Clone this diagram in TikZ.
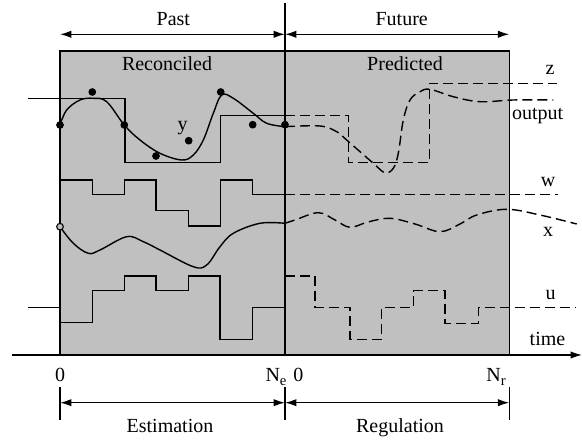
\documentclass[tikz,border=0pt]{standalone}
\usepackage{fontspec}
\setmainfont{Liberation Serif}
\usetikzlibrary{arrows.meta}
\begin{document}
\begin{tikzpicture}[x=0.75pt,y=-0.75pt,
  sig/.style={line width=1.05pt,line join=miter},
  fut/.style={sig,dash pattern=on 7.5pt off 3.75pt},
  ln/.style={line width=1.05pt},
  dimarr/.style={ln,{Latex[length=8.5pt,width=5.5pt]}-{Latex[length=8.5pt,width=5.5pt]}},
  lbl/.style={font=\fontsize{15}{18}\selectfont,anchor=base,inner sep=0pt},
  dot/.style={circle,fill=black,inner sep=0pt,minimum size=5.8pt},
  odot/.style={circle,draw=black,fill=gray!50,line width=0.8pt,inner sep=0pt,minimum size=5pt}]
\useasboundingbox (0,0) rectangle (582,441);
% box
\draw[ln,fill={rgb,255:red,192;green,192;blue,192}] (60,51) rectangle (509.3,355);
% coordinates
\coordinate (p0) at (60,34.3);
\coordinate (pe) at (285,34.3);
\coordinate (pr) at (509.3,34.3);
\coordinate (e0) at (60,402.7);
\coordinate (ee) at (285,402.7);
\coordinate (er) at (509.3,402.7);
\coordinate (vt) at (285,3);
\coordinate (vb) at (285,355);
\coordinate (ax0) at (11.7,355);
\coordinate (ax1) at (582,355);
% axis and divider
\draw[ln] (vt) -- (vb);
\draw[ln,-{Latex[length=8.5pt,width=5.5pt]}] (ax0) -- (ax1);
% ticks
\foreach \xx/\nm in {60/a,285/b,509.3/c}{
  \coordinate (tk\nm1) at (\xx,387);
  \coordinate (tk\nm2) at (\xx,420);
  \draw[ln] (tk\nm1) -- (tk\nm2);
}
% dimension arrows
\draw[dimarr] (p0) -- (pe);
\draw[dimarr] (pe) -- (pr);
\draw[dimarr] (e0) -- (ee);
\draw[dimarr] (ee) -- (er);
% texts
\node[lbl] (past) at (173.3,25.3) {Past};
\node[lbl] (future) at (401.7,25.3) {Future};
\node[lbl] (rec) at (167,70.7) {Reconciled};
\node[lbl] (pred) at (405,70.7) {Predicted};
\node[lbl] (est) at (170,432.7) {Estimation};
\node[lbl] (reg) at (400,432.7) {Regulation};
\node[lbl] (z0) at (60,381.7) {0};
\node[lbl] (ne) at (276,381.7) {N\raisebox{-0.45ex}{\fontsize{11}{12}\selectfont e}};
\node[lbl] (z1) at (298.3,381.7) {0};
\node[lbl] (nr) at (496,381.7) {N\raisebox{-0.45ex}{\fontsize{11}{12}\selectfont r}};
\node[lbl] (lz) at (550,75) {z};
\node[lbl] (lout) at (537.7,120) {output};
\node[lbl] (lw) at (548,186.7) {w};
\node[lbl] (lx) at (548,236.7) {x};
\node[lbl] (lu) at (550.7,300) {u};
\node[lbl] (ltime) at (547.5,345.7) {time};
\node[lbl] (ly) at (182.7,130.7) {y};
% setpoint z (step)
\draw[sig] (28.3,98.7) -- (125,98.7) -- (125,162.7) -- (220.7,162.7) -- (220.7,115.3) -- (285,115.3);
\draw[fut] (285,115.3) -- (348.3,115.3) -- (348.3,162.7) -- (429.3,162.7) -- (429.3,83.3) -- (556.7,83.3);
% output curve
\draw[sig] plot[smooth,tension=0.6] coordinates {(60,125) (66.7,110) (80,100) (93.3,98.3) (106.7,101.7) (124.3,125) (140,140) (160,153.3) (181.7,160) (193.3,155) (203.3,140) (213.3,113.3) (221.7,95) (233.3,98.3) (253.3,113.3) (266.7,123.3) (285,126.7)};
\draw[fut] plot[smooth,tension=0.6] coordinates {(285,126.7) (320,126) (336.7,131.7) (346.7,140) (373.3,163.3) (385,172.7) (393.3,168.3) (398.3,153.3) (403.3,120) (410,100) (420,91.7) (430,89.3) (453.3,96.7) (480,101.7) (513.3,100) (553.3,100)};
% measurements
\foreach \px/\py [count=\i] in {60/125,92.3/92,124.3/125,156/156,188.7/140.7,220.7/92,252.7/124.7,285/124.7}{
  \node[dot] (m\i) at (\px,\py) {};
}
% w
\draw[sig] (60,180) -- (92.3,180) -- (92.3,194.3) -- (124.3,194.3) -- (124.3,180) -- (156,180) -- (156,210.7) -- (188.3,210.7) -- (188.3,226) -- (220.3,226) -- (220.3,180) -- (252.7,180) -- (252.7,194.3) -- (285,194.3);
\draw[fut] (285,194.3) -- (558,194.3);
% x
\draw[sig] plot[smooth,tension=0.6] coordinates {(60,226.7) (73.3,243.3) (88.3,253.3) (100,250) (126.7,236.7) (143.3,241.7) (160,250) (193.3,266.7) (206.7,265) (220,246.7) (233.3,233.3) (260,223.3) (285,223.3)};
\draw[fut] plot[smooth,tension=0.6] coordinates {(285,223.3) (295,220) (318.3,212.7) (335,220) (350,227.3) (368,222) (390,218.3) (415,224) (440,231.7) (460,224) (476.7,215) (506.7,209.3) (540,215) (576.7,224)};
\node[odot] (x0) at (60,226.7) {};
% u
\draw[sig] (28.3,307.3) -- (60,307.3) -- (60,322.7) -- (92.3,322.7) -- (92.3,290.7) -- (124.3,290.7) -- (124.3,276) -- (156,276) -- (156,290.7) -- (188.3,290.7) -- (188.3,276) -- (220,276) -- (220,339.3) -- (252.7,339.3) -- (252.7,307.3) -- (285,307.3);
\draw[fut] (285,276) -- (315,276) -- (315,307.3) -- (350,307.3) -- (350,339.3) -- (381.7,339.3) -- (381.7,307.3) -- (413.3,307.3) -- (413.3,290.7) -- (445,290.7) -- (445,323.3) -- (478.3,323.3) -- (478.3,307.3) -- (575,307.3);
\end{tikzpicture}
\end{document}
